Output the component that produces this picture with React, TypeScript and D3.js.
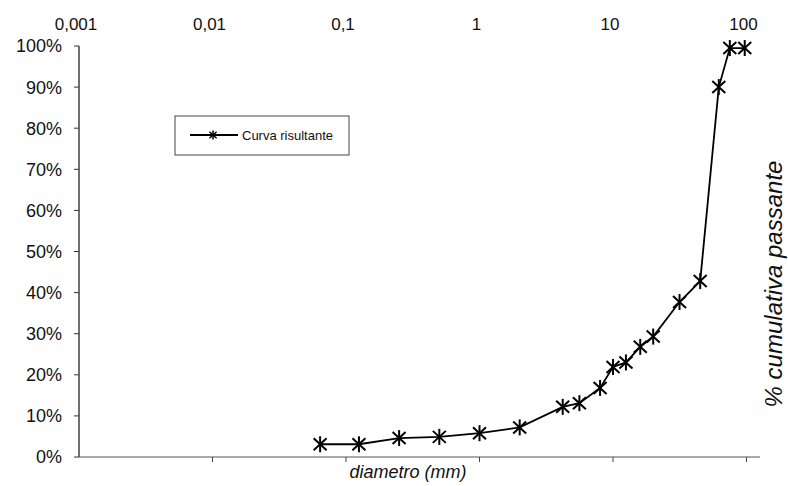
import React from "react";
import * as d3 from "d3";

const diameters = [0.064, 0.125, 0.25, 0.5, 1, 2, 4.2, 5.6, 8, 10, 12.5, 16, 20, 31.5, 45, 62, 75, 97];
const passing = [3.1, 3.1, 4.6, 4.9, 5.8, 7.2, 12.2, 13.1, 16.8, 21.9, 23.0, 26.8, 29.3, 37.7, 42.8, 90.0, 99.5, 99.5];
const xTicks = [0.001, 0.01, 0.1, 1, 10, 100];
const xTickLabels = ["0,001", "0,01", "0,1", "1", "10", "100"];
const yTicks = [0, 10, 20, 30, 40, 50, 60, 70, 80, 90, 100];
const seriesName = "Curva risultante";

const W = 788, H = 486;
const FONT = "'Liberation Sans', Arial, sans-serif";

function Star({ x, y, s = 1, sw = 2 }: { x: number; y: number; s?: number; sw?: number }) {
  const v = 8 * s, dx = 6.5 * s, dy = 6 * s;
  return (
    <g stroke="#000" strokeWidth={sw} strokeLinecap="butt">
      <line x1={x} y1={y - v} x2={x} y2={y + v} />
      <line x1={x - dx} y1={y - dy} x2={x + dx} y2={y + dy} />
      <line x1={x - dx} y1={y + dy} x2={x + dx} y2={y - dy} />
    </g>
  );
}

export default function App() {
  const x = d3.scaleLog().domain([0.001, 100]).range([79, 746.5]);
  const y = d3.scaleLinear().domain([0, 100]).range([457, 46]);
  const pts = diameters.map((d, i) => [x(d), y(passing[i])] as [number, number]);
  const line = d3.line()(pts) || "";
  return (
    <svg width={W} height={H} style={{ position: "absolute", left: 0, top: 0, background: "#fff" }}>
      <rect width={W} height={H} fill="#fff" />
      {/* top labels */}
      {xTicks.map((t, i) => (
        <text key={t} x={x(t) - 3} y={30} fontFamily={FONT} fontSize={17} textAnchor="middle" fill="#111">
          {xTickLabels[i]}
        </text>
      ))}
      {/* y axis */}
      <line x1={79} y1={y(100)} x2={79} y2={y(0)} stroke="#222" strokeWidth={1.3} />
      {yTicks.map((t) => (
        <g key={t}>
          <line x1={74} x2={79} y1={y(t)} y2={y(t)} stroke="#333" strokeWidth={1} />
          <text x={62} y={y(t)} dy="0.36em" fontFamily={FONT} fontSize={18} textAnchor="end" fill="#111">
            {t}%
          </text>
        </g>
      ))}
      {/* x axis */}
      <line x1={79} y1={y(0)} x2={760} y2={y(0)} stroke="#555" strokeWidth={1.2} />
      {xTicks.slice(1).map((t) => (
        <line key={t} x1={x(t)} x2={x(t)} y1={y(0)} y2={y(0) + 5} stroke="#444" strokeWidth={1} />
      ))}
      <text x={408} y={478} fontFamily={FONT} fontSize={18} fontStyle="italic" textAnchor="middle" fill="#111">
        diametro (mm)
      </text>
      <text
        transform={`translate(782,284) rotate(-90)`}
        fontFamily={FONT}
        fontSize={24}
        fontStyle="italic"
        textAnchor="middle"
        fill="#111"
      >
        % cumulativa passante
      </text>
      {/* series */}
      <path d={line} fill="none" stroke="#000" strokeWidth={1.8} />
      {pts.map(([px, py], i) => (
        <Star key={i} x={px} y={py} />
      ))}
      {/* legend */}
      <rect x={175} y={116} width={174} height={39} fill="#fff" stroke="#444" strokeWidth={1} />
      <line x1={190} x2={238} y1={135} y2={135} stroke="#000" strokeWidth={1.8} />
      <Star x={213} y={135} s={0.55} sw={1.5} />
      <text x={242} y={135} dy="0.35em" fontFamily={FONT} fontSize={13} fill="#111">
        {seriesName}
      </text>
    </svg>
  );
}
